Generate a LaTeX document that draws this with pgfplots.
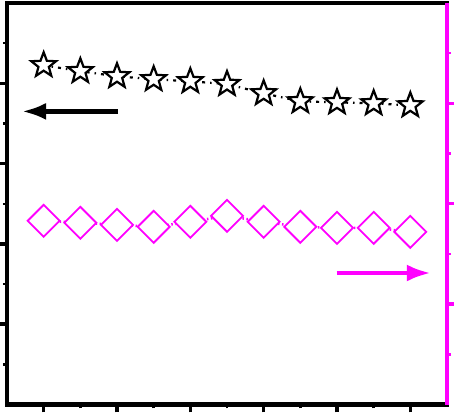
\documentclass[border=0pt]{standalone}
\usepackage{pgfplots}
\pgfplotsset{compat=1.18}
\usetikzlibrary{arrows.meta}
\definecolor{mag}{RGB}{255,0,255}
\makeatletter
\pgfdeclareplotmark{ostar}{%
  \pgfpathmoveto{\pgfpointpolar{90}{\pgfplotmarksize}}%
  \pgfpathlineto{\pgfpointpolar{126}{0.42\pgfplotmarksize}}%
  \pgfpathlineto{\pgfpointpolar{162}{\pgfplotmarksize}}%
  \pgfpathlineto{\pgfpointpolar{198}{0.42\pgfplotmarksize}}%
  \pgfpathlineto{\pgfpointpolar{234}{\pgfplotmarksize}}%
  \pgfpathlineto{\pgfpointpolar{270}{0.42\pgfplotmarksize}}%
  \pgfpathlineto{\pgfpointpolar{306}{\pgfplotmarksize}}%
  \pgfpathlineto{\pgfpointpolar{342}{0.42\pgfplotmarksize}}%
  \pgfpathlineto{\pgfpointpolar{18}{\pgfplotmarksize}}%
  \pgfpathlineto{\pgfpointpolar{54}{0.42\pgfplotmarksize}}%
  \pgfpathclose
  \pgfusepathqfillstroke}
\makeatother
\begin{document}
\begin{tikzpicture}
\begin{axis}[
  scale only axis, width=440bp, height=401.5bp,
  xmin=0, xmax=12, ymin=0, ymax=5,
  xtick={1,3,5,7,9,11}, minor xtick={2,4,6,8,10},
  ytick={1,2,3,4}, minor ytick={0.5,1.5,2.5,3.5,4.5},
  xticklabels={}, yticklabels={},
  tick align=outside, xtick pos=bottom, ytick pos=left,
  major tick length=8bp, minor tick length=4bp,
  axis line style={black, line width=4.5bp},
  every tick/.append style={black, line width=3.5bp},
  every minor tick/.append style={line width=2.5bp},
  clip=false,
]
\addplot[black, line width=2.2bp, dash pattern=on 3bp off 5bp on 1.5bp off 5bp,
  mark=ostar, mark size=13bp, mark options={solid, fill=white, line width=2.2bp}]
  coordinates {(1,4.225) (2,4.15) (3,4.0875) (4,4.05) (5,4.025) (6,3.99)
               (7,3.875) (8,3.775) (9,3.7625) (10,3.75) (11,3.725)};
\draw[black, line width=4.5bp, -{Latex[length=24bp,width=17bp]}]
  (axis cs:3.03,3.65) -- (axis cs:0.41,3.65);
\draw[mag, line width=4.5bp, -{Latex[length=24bp,width=17bp]}]
  (axis cs:8.99,1.6375) -- (axis cs:11.56,1.6375);
\end{axis}
\begin{axis}[
  scale only axis, width=440bp, height=401.5bp,
  xmin=0, xmax=12, ymin=0, ymax=4,
  axis x line=none, axis y line*=right,
  ytick={1,2,3}, minor ytick={0.5,1.5,2.5,3.5},
  yticklabels={},
  tick align=outside,
  major tick length=8bp, minor tick length=4bp,
  axis line style={mag, line width=4bp},
  every tick/.append style={mag, line width=3.5bp},
  every minor tick/.append style={line width=2.5bp},
  clip=false,
]
\addplot[mag, line width=2.5bp, dash pattern=on 1.5bp off 2.5bp on 1.5bp off 2.5bp,
  mark=square*, mark size=11.3bp, mark options={solid, rotate=45, draw=mag, fill=white, line width=1.8bp}]
  coordinates {(1,1.83) (2,1.81) (3,1.79) (4,1.77) (5,1.82) (6,1.88)
               (7,1.82) (8,1.77) (9,1.76) (10,1.76) (11,1.72)};
\end{axis}
\pgfresetboundingbox
\path (-7bp,-9.5bp) rectangle (447bp,404.5bp);
\end{tikzpicture}
\end{document}
